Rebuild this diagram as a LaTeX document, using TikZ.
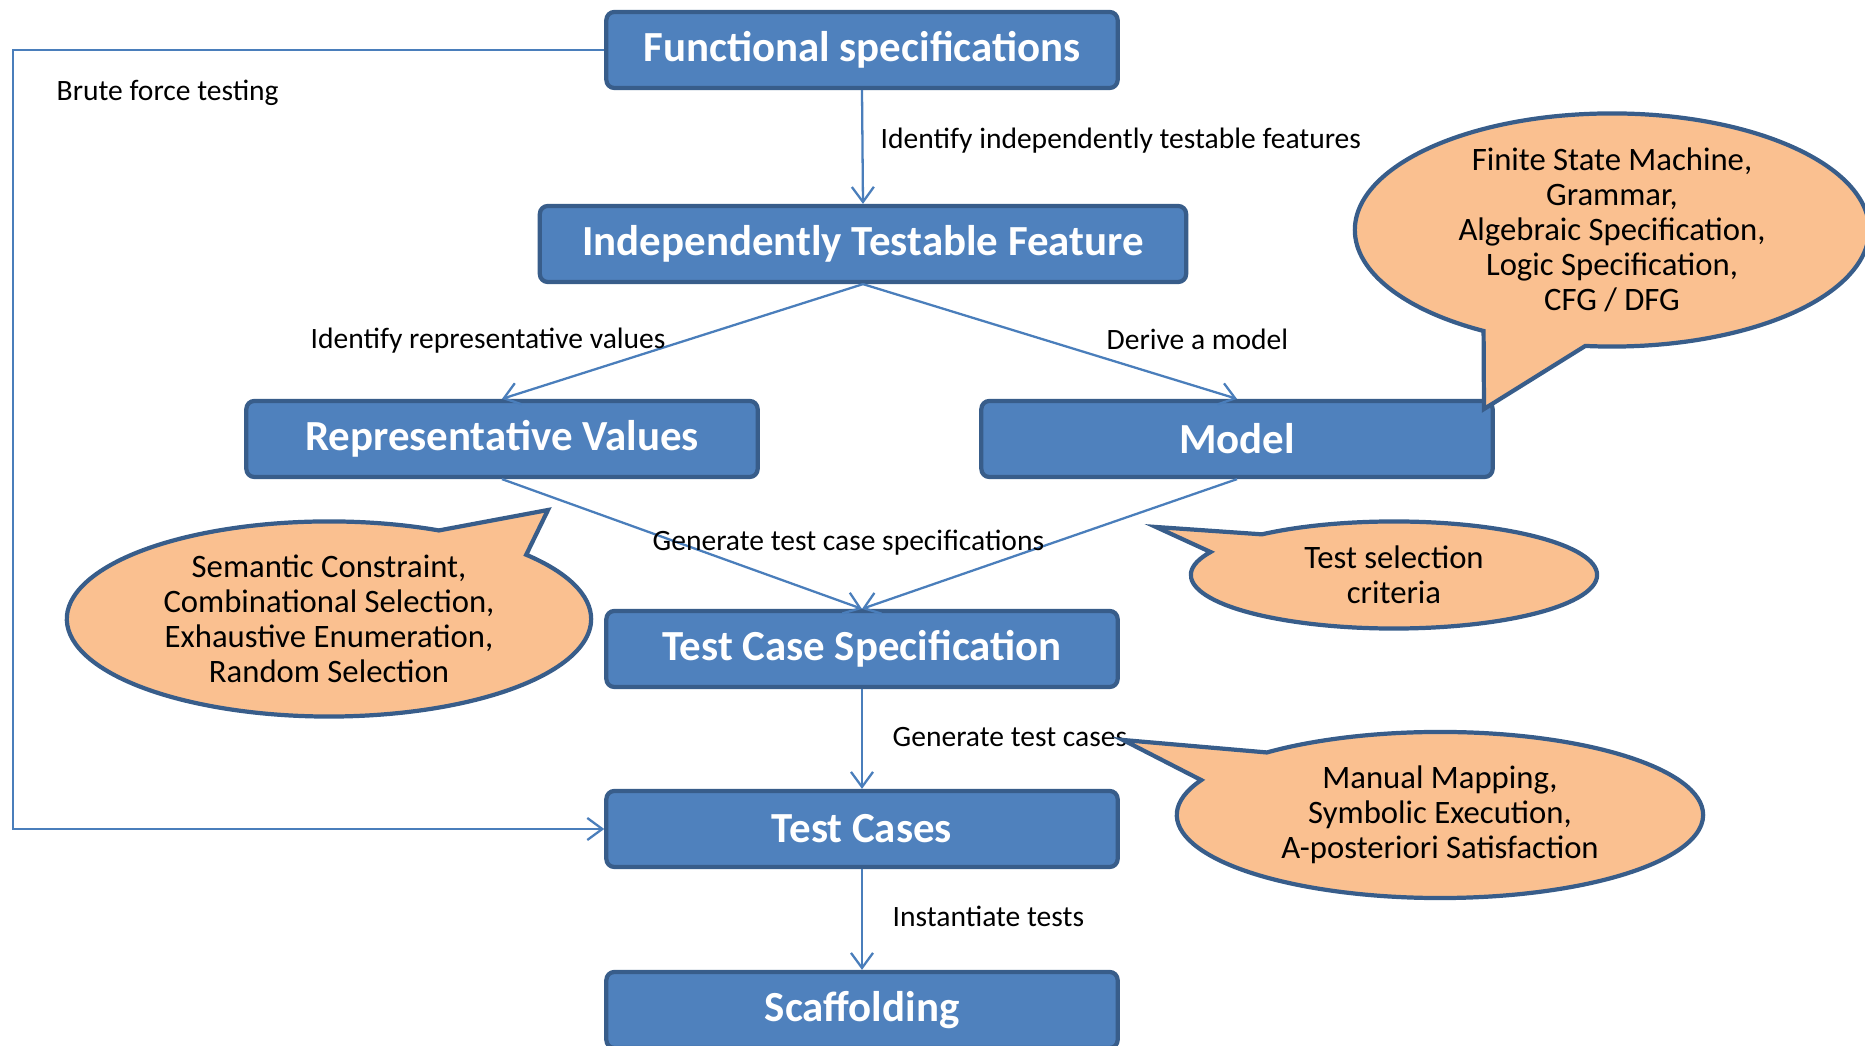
\documentclass[tikz,border=0pt]{standalone}
\usepackage{fontspec}
\setmainfont{Carlito}
\usepackage{xcolor}
\usetikzlibrary{arrows.meta}
\usetikzlibrary{shapes.callouts}
\usetikzlibrary{math}
\definecolor{myblue}{RGB}{79,129,189}
\definecolor{mydarkblue}{RGB}{56,93,138}
\definecolor{mylineblue}{RGB}{74,126,187}
\definecolor{myorange}{RGB}{250,192,144}

\begin{document}
\begin{tikzpicture}[x=0.01cm, y=-0.01cm,
  box/.style={draw=mydarkblue, line width=1.2pt, fill=myblue, rounded corners=0.08cm,
    minimum width=5.11cm, minimum height=0.76cm, inner sep=0pt,
    text=white, font=\fontsize{12.2}{14}\selectfont\bfseries},
  conn/.style={draw=mylineblue, line width=0.65pt, -{Straight Barb[length=0.15cm, width=0.22cm]}},
  lbl/.style={anchor=west, inner sep=0pt, font=\fontsize{8.4}{10}\selectfont},
  bubble/.style={ellipse callout, draw=mydarkblue, line width=1.2pt, fill=myorange,
    align=center, inner sep=0pt, inner ysep=-2pt, callout pointer arc=24,
    font=\fontsize{9.3}{10}\selectfont}]
\tikzmath{
\bw=5.11;
\bh=0.76;
}
\useasboundingbox (0,0) rectangle (1865,1046);

% the chain of boxes
\node[box] (fs) at (862,50) {Functional specifications};
\node[box, minimum width=6.46cm] (itf) at (863,244) {Independently Testable Feature};
\node[box] (rv) at (502,439) {Representative Values};
\node[box] (model) at (1237,439) {Model};
\node[box] (tcs) at (862,649) {Test Case Specification};
\node[box] (tc) at (862,829) {Test Cases};
\node[box] (scaf) at (862,1010) {Scaffolding};

% connectors
\coordinate (bf) at (13,50);
\draw[conn] (fs.west) -- (bf) |- (tc.west);
\draw[conn] (fs.south) -- (itf.north);
\draw[conn] (itf.south) -- (rv.north);
\draw[conn] (itf.south) -- (model.north);
\draw[conn] (rv.south) -- (tcs.north);
\draw[conn] (model.south) -- (tcs.north);
\draw[conn] (tcs.south) -- (tc.north);
\draw[conn] (tc.south) -- (scaf.north);

% labels
\node[lbl] (l1) at (56,93) {Brute force testing};
\node[lbl] (l2) at (880,141) {Identify independently testable features};
\node[lbl] (l3) at (310,341) {Identify representative values};
\node[lbl] (l4) at (1106,339) {Derive a model};
\node[lbl] (l5) at (652,543) {Generate test case specifications};
\node[lbl] (l6) at (892,737) {Generate test cases};
\node[lbl] (l7) at (892,916) {Instantiate tests};

% call-outs
\node[bubble, minimum width=5.14cm, minimum height=2.33cm, inner ysep=-4pt,
  callout absolute pointer={(1484,409)}] (fsm) at (1612,230)
  {Finite State Machine,\\Grammar,\\Algebraic Specification,\\Logic Specification,\\CFG / DFG};
\node[bubble, minimum width=5.24cm, minimum height=1.95cm,
  callout absolute pointer={(548,510)}] (sel) at (329,619)
  {Semantic Constraint,\\Combinational Selection,\\Exhaustive Enumeration,\\Random Selection};
\node[bubble, minimum width=4.06cm, minimum height=1.07cm,
  callout absolute pointer={(1156,527)}] (crit) at (1394,575)
  {Test selection\\criteria};
\node[bubble, minimum width=5.26cm, minimum height=1.66cm,
  callout absolute pointer={(1123,740)}] (map) at (1440,815)
  {Manual Mapping,\\Symbolic Execution,\\A-posteriori Satisfaction};
\end{tikzpicture}
\end{document}
